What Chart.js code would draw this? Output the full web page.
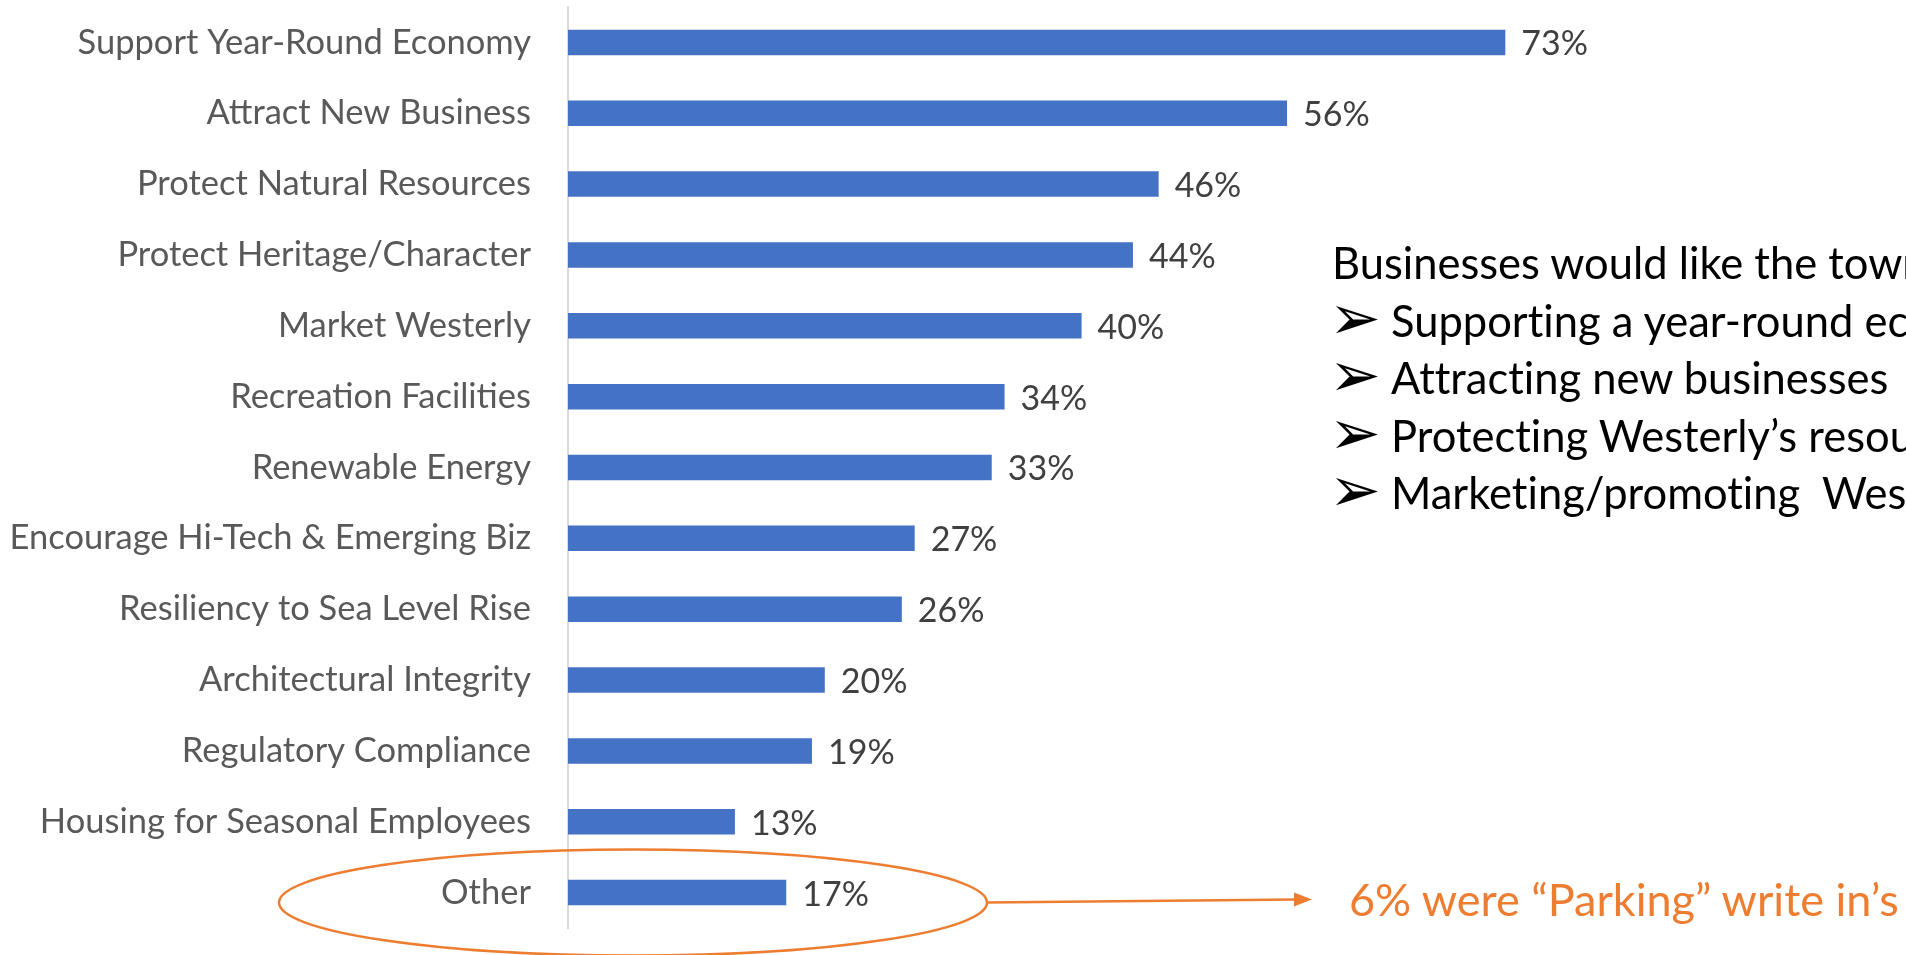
<!DOCTYPE html>
<html>
<head>
<meta charset="utf-8">
<script src="https://cdn.jsdelivr.net/npm/chart.js@4"></script>
<style>
  html, body { margin: 0; padding: 0; background: #fff; overflow: hidden; }
  #wrap { position: relative; width: 1906px; height: 955px; overflow: hidden; }
  #chart { position: absolute; left: 0; top: 0; }
  .note { position: absolute; left: 1332px; top: 234px; font-family: Lato, sans-serif; font-size: 43.5px; color: #000; white-space: nowrap; line-height: 57.5px; font-variant-ligatures: none; }
  .note div { height: 57.5px; }
  .note .b { display: inline-block; width: 59px; font-family: "DejaVu Sans", sans-serif; font-size: 62px; line-height: 1px; vertical-align: -2px; margin-left: -3px; margin-right: 3px; }
  .parking { position: absolute; left: 1349px; top: 872px; font-family: Lato, sans-serif; font-size: 45px; color: #ED7D31; white-space: nowrap; }
</style>
</head>
<body>
<div id="wrap">
  <canvas id="chart" width="1906" height="955"></canvas>
  <div class="note">
    <div>Businesses would like the town to focus on:</div>
    <div><span class="b">➢</span>Supporting a year-round economy</div>
    <div><span class="b">➢</span>Attracting new businesses</div>
    <div><span class="b">➢</span>Protecting Westerly’s resources</div>
    <div><span class="b">➢</span>Marketing/promoting&nbsp; Westerly</div>
  </div>
  <div class="parking">6% were “Parking” write in’s</div>
</div>
<script>
const categories = [
    'Support Year-Round Economy',
    'Attract New Business',
    'Protect Natural Resources',
    'Protect Heritage/Character',
    'Market Westerly',
    'Recreation Facilities',
    'Renewable Energy',
    'Encourage Hi-Tech & Emerging Biz',
    'Resiliency to Sea Level Rise',
    'Architectural Integrity',
    'Regulatory Compliance',
    'Housing for Seasonal Employees',
    'Other'
];
const percents = [73, 56, 46, 44, 40, 34, 33, 27, 26, 20, 19, 13, 17];

// value labels at the end of each bar
const valueLabels = {
    id: 'valueLabels',
    afterDatasetsDraw(chart) {
        const ctx = chart.ctx;
        const meta = chart.getDatasetMeta(0);
        ctx.save();
        ctx.font = '34px Lato';
        ctx.fillStyle = '#404040';
        ctx.textBaseline = 'middle';
        meta.data.forEach(function(bar, i) {
            ctx.fillText(percents[i] + '%', bar.x + 16, bar.y + 2);
        });
        ctx.restore();
    }
};

// orange ellipse round "Other" and arrow to the note
const otherCallout = {
    id: 'otherCallout',
    afterDraw(chart) {
        const ctx = chart.ctx;
        const y = chart.scales.y.getPixelForValue(categories.length - 1) + 10;
        ctx.save();
        ctx.strokeStyle = '#ED7D31';
        ctx.fillStyle = '#ED7D31';
        ctx.lineWidth = 2.5;
        ctx.beginPath();
        ctx.ellipse(633, y, 354, 53, 0, 0, Math.PI * 2);
        ctx.stroke();
        ctx.beginPath();
        ctx.moveTo(987, y);
        ctx.lineTo(1296, y - 3);
        ctx.stroke();
        ctx.beginPath();
        ctx.moveTo(1312, y - 3);
        ctx.lineTo(1294, y - 10);
        ctx.lineTo(1294, y + 4);
        ctx.closePath();
        ctx.fill();
        ctx.restore();
    }
};

new Chart(document.getElementById('chart').getContext('2d'), {
    type: 'bar',
    data: {
        labels: categories,
        datasets: [{
            data: percents,
            backgroundColor: '#4472C4',
            categoryPercentage: 1,
            barPercentage: 0.36
        }]
    },
    options: {
        indexAxis: 'y',
        responsive: false,
        devicePixelRatio: 1,
        animation: false,
        layout: { padding: { top: 7, bottom: 27, left: 0, right: 54 } },
        scales: {
            x: { display: false, min: 0, max: 100 },
            y: {
                afterFit(scale) {
                    scale.width = 568;
                    scale.paddingTop = 0;
                    scale.paddingBottom = 0;
                },
                grid: { display: false, drawTicks: false },
                border: { display: true, color: '#d9d9d9', width: 2 },
                ticks: {
                    padding: 37,
                    color: '#595959',
                    font: { family: 'Lato', size: 34.5 }
                }
            }
        },
        plugins: {
            legend: { display: false },
            tooltip: { enabled: false }
        }
    },
    plugins: [valueLabels, otherCallout]
});
</script>
</body>
</html>
